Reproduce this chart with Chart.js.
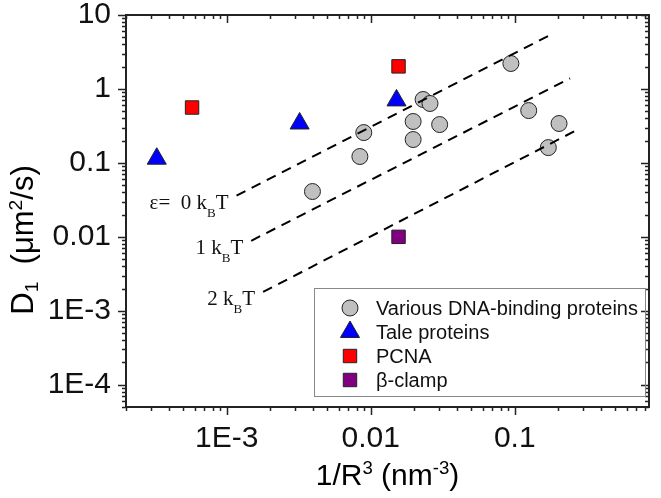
<!DOCTYPE html>
<html>
<head>
<meta charset="utf-8">
<script src="https://cdn.jsdelivr.net/npm/chart.js@4.4.1/dist/chart.umd.min.js"></script>
<style>
  html, body { margin: 0; padding: 0; background: #fff; }
  #wrap { width: 661px; height: 498px; }
</style>
</head>
<body>
<div id="wrap"><canvas id="myChart" width="661" height="498"></canvas></div>
<script>
// values: x = 1/R^3 (nm^-3), y = D1 (um^2/s)
const dnaX = [0.00394, 0.00841, 0.00895, 0.0197, 0.0197, 0.0231, 0.0258, 0.0301, 0.094, 0.125, 0.203, 0.171];
const dnaY = [0.041, 0.122, 0.257, 0.363, 0.207, 0.72, 0.636, 0.33, 2.21, 0.51, 0.341, 0.161];
const taleX = [3.27e-4, 0.00321, 0.0151];
const taleY = [0.114, 0.341, 0.70];
const pcnaX = [5.75e-4, 0.0156];
const pcnaY = [0.561, 2.02];
const clampX = [0.0156];
const clampY = [0.01];

// dashed guide lines for eps = 0, 1, 2 kBT (start / end)
const lineX = [[1.17e-3, 0.185], [1.48e-3, 0.242], [1.79e-3, 0.283]];
const lineY = [[0.036, 5.65], [0.00885, 1.39], [1.8e-3, 0.292]];
const lineNames = ['\u03B5=  0 k', '1 k', '2 k'];

const xMajor = [1e-3, 0.01, 0.1];
const xMajorLabels = ['1E-3', '0.01', '0.1'];
const yMajor = [1e-4, 1e-3, 0.01, 0.1, 1, 10];
const yMajorLabels = ['1E-4', '1E-3', '0.01', '0.1', '1', '10'];
const xRange = [2e-4, 0.855];
const yRange = [5e-5, 10];

const SANS = '"Liberation Sans", Arial, sans-serif';
const SERIF = '"Liberation Serif", "Times New Roman", serif';

// 1..9 x 10^n inside the range
function logTicks(min, max) {
    const out = [];
    for (let e = Math.floor(Math.log10(min)); e <= Math.ceil(Math.log10(max)); e++) {
        for (let s = 1; s < 10; s++) {
            const v = s * Math.pow(10, e);
            if (v >= min * 0.999 && v <= max * 1.001) out.push(v);
        }
    }
    return out;
}

function labelFor(v, majors, labels) {
    for (let i = 0; i < majors.length; i++) {
        if (Math.abs(v / majors[i] - 1) < 1e-6) return labels[i];
    }
    return '';
}

function isMajor(v) {
    const l = Math.log10(v);
    return Math.abs(l - Math.round(l)) < 1e-6;
}

// text with super / subscripts: parts = [text, kind], kind 1 = sup, -1 = sub
function richText(ctx, parts, x, y, size, family, align, subDrop) {
    const small = size * 0.62;
    let total = 0;
    const widths = parts.map(p => {
        ctx.font = (p[1] ? small : size) + 'px ' + family;
        const w = ctx.measureText(p[0]).width;
        total += w;
        return w;
    });
    let cx = align === 'center' ? x - total / 2 : (align === 'right' ? x - total : x);
    ctx.textAlign = 'left';
    ctx.textBaseline = 'alphabetic';
    parts.forEach((p, i) => {
        ctx.font = (p[1] ? small : size) + 'px ' + family;
        let dy = 0;
        if (p[1] === 1) dy = -size * 0.36;
        if (p[1] === -1) dy = subDrop;
        ctx.fillText(p[0], cx, y + dy);
        cx += widths[i];
    });
}

const pts = (xs, ys) => xs.map((x, i) => ({x: x, y: ys[i]}));

const datasets = [
    {label: 'Various DNA-binding proteins', data: pts(dnaX, dnaY), pointStyle: 'circle', pointRadius: 8,
        backgroundColor: '#c0c0c0', borderColor: '#222', borderWidth: 1, order: 1},
    {label: 'Tale proteins', data: pts(taleX, taleY), pointStyle: 'triangle', pointRadius: 11,
        backgroundColor: '#0000ff', borderColor: '#222', borderWidth: 1, order: 1},
    {label: 'PCNA', data: pts(pcnaX, pcnaY), pointStyle: 'rect', pointRadius: 9.5,
        backgroundColor: '#ff0000', borderColor: '#222', borderWidth: 1, order: 1},
    {label: '\u03B2-clamp', data: pts(clampX, clampY), pointStyle: 'rect', pointRadius: 9.5,
        backgroundColor: '#800080', borderColor: '#222', borderWidth: 1, order: 1}
];
lineX.forEach((xs, i) => {
    datasets.push({
        label: '', data: pts(xs, lineY[i]), showLine: true, pointRadius: 0,
        borderColor: '#000', borderWidth: 2, borderDash: [10, 7], fill: false, order: 0
    });
});

// frame, ticks on four sides, titles, guide labels and legend
const decor = {
    id: 'decor',
    afterDraw(chart) {
        const ctx = chart.ctx;
        const a = chart.chartArea;
        const xs = chart.scales.x, ys = chart.scales.y;
        ctx.save();
        ctx.strokeStyle = '#222';
        ctx.lineWidth = 2;
        ctx.strokeRect(a.left, a.top, a.right - a.left, a.bottom - a.top);

        ctx.lineWidth = 1.5;
        ctx.beginPath();
        logTicks(xRange[0], xRange[1]).forEach(v => {
            const px = Math.round(xs.getPixelForValue(v)) + 0.5;
            const len = isMajor(v) ? 8 : 4;
            ctx.moveTo(px, a.bottom); ctx.lineTo(px, a.bottom + len);
            ctx.moveTo(px, a.top); ctx.lineTo(px, a.top + len);
        });
        logTicks(yRange[0], yRange[1]).forEach(v => {
            const py = Math.round(ys.getPixelForValue(v)) + 0.5;
            const len = isMajor(v) ? 8 : 4;
            ctx.moveTo(a.left - len, py); ctx.lineTo(a.left, py);
            ctx.moveTo(a.right - len, py); ctx.lineTo(a.right, py);
        });
        ctx.stroke();

        // axis titles
        ctx.fillStyle = '#000';
        richText(ctx, [['1/R', 0], ['3', 1], [' (nm', 0], ['-3', 1], [')', 0]],
            (a.left + a.right) / 2, 485, 30, SANS, 'center', 0);
        ctx.save();
        ctx.translate(33, 240);
        ctx.rotate(-Math.PI / 2);
        richText(ctx, [['D', 0], ['1', -1], ['  (\u03BCm', 0], ['2', 1], ['/s)', 0]],
            0, 0, 31, SANS, 'center', 5);
        ctx.restore();

        // eps labels at the start of each dashed line
        ctx.fillStyle = '#111';
        lineX.forEach((xv, i) => {
            const px = xs.getPixelForValue(xv[0]);
            const py = ys.getPixelForValue(lineY[i][0]);
            richText(ctx, [[lineNames[i], 0], ['B', -1], ['T', 0]], px - 8, py + 13, 21, SERIF, 'right', 8);
        });

        // legend box
        const lx = a.right - 335, ly = a.bottom - 119;
        ctx.strokeStyle = '#888';
        ctx.lineWidth = 1;
        ctx.strokeRect(lx + 0.5, ly + 0.5, 331, 108);
        chart.data.datasets.slice(0, 4).forEach((ds, i) => {
            const cy = ly + 20 + i * 24;
            ctx.fillStyle = ds.backgroundColor;
            ctx.strokeStyle = ds.borderColor;
            ctx.lineWidth = 1;
            Chart.helpers.drawPoint(ctx, {pointStyle: ds.pointStyle, radius: ds.pointRadius, borderWidth: 1, rotation: 0}, lx + 36, cy);
            ctx.fillStyle = '#111';
            ctx.font = '20px ' + SANS;
            ctx.textAlign = 'left';
            ctx.textBaseline = 'middle';
            ctx.fillText(ds.label, lx + 62, cy + 1);
        });
        ctx.restore();
    }
};

new Chart(document.getElementById('myChart'), {
    type: 'scatter',
    data: {datasets: datasets},
    options: {
        responsive: false,
        animation: false,
        layout: {padding: {top: 15, right: 3, left: 0, bottom: 0}},
        plugins: {legend: {display: false}, tooltip: {enabled: false}},
        scales: {
            x: {
                type: 'logarithmic', min: xRange[0], max: xRange[1],
                grid: {display: false, drawTicks: false}, border: {display: false},
                afterBuildTicks: s => { s.ticks = logTicks(xRange[0], xRange[1]).map(v => ({value: v})); },
                afterFit: s => { s.height = 91; s.paddingLeft = 0; s.paddingRight = 0; },
                ticks: {autoSkip: false, maxRotation: 0, padding: 14, color: '#111',
                    font: {family: SANS, size: 30},
                    callback: v => labelFor(v, xMajor, xMajorLabels)}
            },
            y: {
                type: 'logarithmic', min: yRange[0], max: yRange[1],
                grid: {display: false, drawTicks: false}, border: {display: false},
                afterBuildTicks: s => { s.ticks = logTicks(yRange[0], yRange[1]).map(v => ({value: v})); },
                afterFit: s => { s.width = 126; s.paddingTop = 0; s.paddingBottom = 0; },
                ticks: {autoSkip: false, padding: 15, color: '#111',
                    font: {family: SANS, size: 30},
                    callback: v => labelFor(v, yMajor, yMajorLabels)}
            }
        }
    },
    plugins: [decor]
});
</script>
</body>
</html>
